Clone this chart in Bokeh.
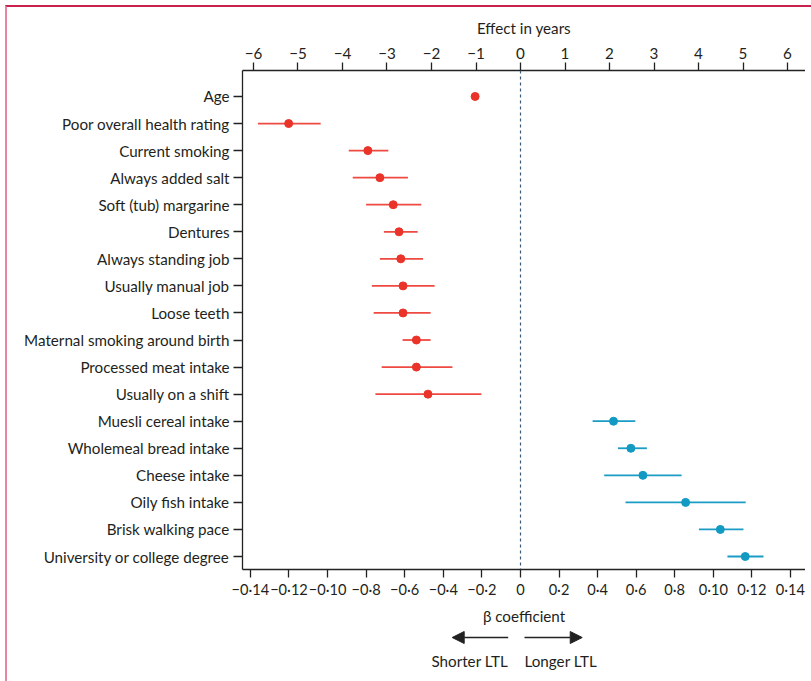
from bokeh.plotting import figure
from bokeh.layouts import column
from bokeh.models import (Range1d, LinearAxis, FixedTicker, Span, Arrow, NormalHead,
                          ColumnDataSource, GlobalInlineStyleSheet)
from bokeh.core.properties import value
from bokeh.embed import file_html
from bokeh.resources import INLINE

# ---------------- data ----------------
categories = [
    "Age", "Poor overall health rating", "Current smoking", "Always added salt",
    "Soft (tub) margarine", "Dentures", "Always standing job", "Usually manual job",
    "Loose teeth", "Maternal smoking around birth", "Processed meat intake",
    "Usually on a shift", "Muesli cereal intake", "Wholemeal bread intake",
    "Cheese intake", "Oily fish intake", "Brisk walking pace",
    "University or college degree",
]
effect_years = [-1.02, -5.21, -3.43, -3.16, -2.86, -2.73, -2.69, -2.64, -2.64, -2.34,
                -2.34, -2.08, 2.09, 2.48, 2.75, 3.71, 4.49, 5.05]
lower_years = [-1.06, -5.90, -3.86, -3.77, -3.47, -3.07, -3.16, -3.34, -3.30, -2.65,
               -3.12, -3.26, 1.62, 2.19, 1.88, 2.36, 4.01, 4.65]
upper_years = [-0.98, -4.49, -2.97, -2.53, -2.23, -2.31, -2.19, -1.93, -2.02, -2.02,
               -1.53, -0.88, 2.58, 2.84, 3.62, 5.06, 5.01, 5.46]

year_ticks = [-6, -5, -4, -3, -2, -1, 0, 1, 2, 3, 4, 5, 6]
year_labels = ["\u22126", "\u22125", "\u22124", "\u22123", "\u22122", "\u22121",
               "0", "1", "2", "3", "4", "5", "6"]
beta_ticks = [-0.14, -0.12, -0.10, -0.08, -0.06, -0.04, -0.02, 0.0,
              0.02, 0.04, 0.06, 0.08, 0.10, 0.12, 0.14]
beta_labels = ["\u22120\u00b714", "\u22120\u00b712", "\u22120\u00b710", "\u22120\u00b78",
               "\u22120\u00b76", "\u22120\u00b74", "\u22120\u00b72", "0", "0\u00b72",
               "0\u00b74", "0\u00b76", "0\u00b78", "0\u00b710", "0\u00b712", "0\u00b714"]
direction_labels = ["Shorter LTL", "Longer LTL"]

# ---------------- style ----------------
FONT = "Lato"
FS = "15.2px"
TXT = "#231f20"
RED = "#ea3329"
RED_CI = "#ee4a42"
BLUE = "#139ac3"
BLUE_CI = "#1a9cc4"

frame_css = GlobalInlineStyleSheet(css="""
body::before { content: ''; position: absolute; left: 5px; top: 5px;
  width: 806px; height: 676px; box-sizing: border-box;
  border-top: 2px solid #c8234f; border-left: 2px solid #e8869f;
  pointer-events: none; z-index: 10; }
""")

rows = list(range(len(categories)))
colors = [RED if e < 0 else BLUE for e in effect_years]
ci_colors = [RED_CI if e < 0 else BLUE_CI for e in effect_years]
src = ColumnDataSource(dict(y=rows, eff=effect_years, lo=lower_years, hi=upper_years,
                            c=colors, cc=ci_colors))

xr = Range1d(-6.247, 6.404)
p = figure(width=805, height=628, output_backend="svg", toolbar_location=None,
           x_range=xr, y_range=Range1d(17.48, -0.96),
           x_axis_location="above",
           min_border_left=242, min_border_right=0, min_border_top=70, min_border_bottom=59,
           stylesheets=[frame_css])
p.outline_line_color = None
p.xgrid.visible = False
p.ygrid.visible = False

# beta scale (bottom)
p.extra_x_ranges = {"beta": Range1d(-0.1441, 0.1478)}

xa = p.xaxis[0]
xa.ticker = FixedTicker(ticks=year_ticks)
xa.major_label_overrides = {t: l for t, l in zip(year_ticks, year_labels)}
xa.axis_label = "Effect in years"

bx = LinearAxis(x_range_name="beta", ticker=FixedTicker(ticks=beta_ticks))
bx.major_label_overrides = {t: l for t, l in zip(beta_ticks, beta_labels)}
bx.axis_label = "\u03b2 coefficient"
p.add_layout(bx, "below")

ya = p.yaxis[0]
ya.ticker = FixedTicker(ticks=rows)
ya.major_label_overrides = {i: c for i, c in zip(rows, categories)}

for ax in (xa, bx, ya):
    ax.axis_line_color = "#222222"
    ax.axis_line_width = 1.3
    ax.major_tick_line_color = "#222222"
    ax.major_tick_line_width = 1.3
    ax.major_tick_in = 0
    ax.major_tick_out = 8
    ax.minor_tick_line_color = None
    ax.major_label_text_font = FONT
    ax.major_label_text_font_size = FS
    ax.major_label_text_color = TXT
    ax.axis_label_text_font = FONT
    ax.axis_label_text_font_size = FS
    ax.axis_label_text_font_style = "normal"
    ax.axis_label_text_color = TXT
bx.major_label_text_font_size = "14.6px"
ya.major_tick_out = 9
ya.major_label_standoff = 4
xa.major_label_standoff = 4
xa.axis_label_standoff = 8
bx.major_label_standoff = 3
bx.axis_label_standoff = 6

p.add_layout(Span(location=0, dimension="height", line_color="#3b5b78",
                  line_dash="3 3", line_width=1.2))

p.segment(x0="lo", x1="hi", y0="y", y1="y", source=src, line_color="cc", line_width=1.8)
p.scatter(x="eff", y="y", source=src, size=8, fill_color="c", line_color="c")

# ---------------- direction arrows (second strip) ----------------
p2 = figure(width=805, height=46, output_backend="svg", toolbar_location=None,
            x_range=xr, y_range=Range1d(46, 0),
            min_border_left=242, min_border_right=0, min_border_top=0, min_border_bottom=0)
p2.axis.visible = False
p2.grid.visible = False
p2.outline_line_color = None

for xs, xe in ((-0.277, -1.535), (0.09, 1.387)):
    p2.add_layout(Arrow(x_start=xs, y_start=9, x_end=xe, y_end=9,
                        line_color="#222222", line_width=1.6,
                        end=NormalHead(size=12, fill_color="#222222",
                                       line_color="#222222")))
p2.text(x=[-0.277, 0.09], y=[32, 32], text=direction_labels,
        text_align=["right", "left"], text_baseline="middle",
        text_font=value(FONT), text_font_size=FS, text_color=TXT)

layout = column(p, p2, spacing=0)
open("out.html", "w").write(file_html(layout, INLINE))
